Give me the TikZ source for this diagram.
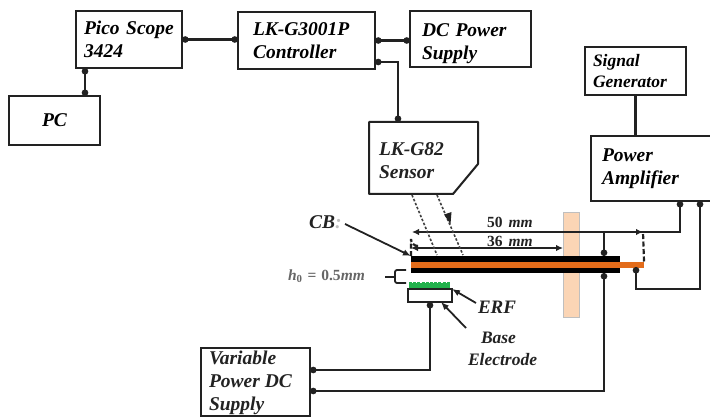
\documentclass[tikz,border=0pt]{standalone}
\usepackage[no-math]{fontspec}
\setmainfont{Liberation Serif}
\usetikzlibrary{arrows.meta,calc}
\definecolor{ink}{HTML}{222222}
\definecolor{clampc}{HTML}{FBD5B5}
\definecolor{rodc}{HTML}{E36C1A}
\definecolor{filmc}{HTML}{22B14C}
\definecolor{hgrey}{HTML}{666666}
\tikzset{
  box/.style={draw=ink,line width=2pt,fill=white,anchor=north west,inner xsep=8pt,inner ysep=0pt,outer sep=0pt,align=left,
    font=\fontsize{19.5}{23}\selectfont\bfseries\itshape},
  lbl/.style={inner sep=0pt,outer sep=0pt,align=left,text=ink,font=\fontsize{19.5}{23}\selectfont\bfseries\itshape},
  small/.style={lbl,font=\fontsize{17.5}{22}\selectfont\bfseries\itshape},
  dimtext/.style={lbl,font=\fontsize{15.5}{17}\selectfont\bfseries},
  part/.style={inner sep=0pt,outer sep=0pt,anchor=north west},
  wire/.style={draw=ink,line width=2.4pt,{Circle[length=6.5pt]}-{Circle[length=6.5pt]}},
  wireb/.style={draw=ink,line width=2.4pt},
  lead/.style={draw=ink,line width=1.8pt,-{Latex[length=8pt,width=6.5pt]}},
  dim/.style={draw=ink,line width=1.7pt,{Latex[length=7pt,width=6.5pt]}-{Latex[length=7pt,width=6.5pt]}},
  beamdash/.style={draw=black!75,line width=1.6pt,dash pattern=on 2.5pt off 1.8pt},
  extdash/.style={draw=ink,line width=2.2pt,dash pattern=on 5pt off 2.5pt},
}
\begin{document}
\begin{tikzpicture}[x=1pt,y=-1pt]
\useasboundingbox (0,0) rectangle (710,417);
% boxes
\node[box,text width=90pt,minimum height=57pt] (pico) at (76,11) {\mbox{Pico Scope}\\3424};
\node[box,text width=75pt,minimum height=49pt,align=center] (pc) at (9,96) {PC};
\node[box,text width=107pt,minimum height=57pt,inner xsep=15pt] (ctrl) at (238,12) {\mbox{LK-G3001P}\\Controller};
\node[box,text width=97pt,minimum height=56pt,inner xsep=12pt] (dc) at (410,11) {\rule{0pt}{22pt}\mbox{DC Power}\\Supply};
\node[box,text width=85pt,minimum height=48pt,font=\fontsize{17.5}{21}\selectfont\bfseries\itshape] (sig) at (585,47) {Signal\\Generator};
\node[box,text width=98pt,minimum height=65pt,inner xsep=11pt] (amp) at (591,136) {Power\\Amplifier};
\node[box,minimum width=109pt,minimum height=68pt] (var) at (201,348) {};
\node[lbl,anchor=west] (varlbl) at (var.west) [xshift=8pt,yshift=-1pt] {\mbox{Variable}\\\mbox{Power DC}\\Supply};
% sensor
\coordinate (s1) at (369,122);
\coordinate (s2) at (478,122);
\coordinate (s3) at (478,164);
\coordinate (s4) at (453,194);
\coordinate (s5) at (369,194);
\draw[draw=ink,line width=2pt,fill=white,line join=round] (s1)--(s2)--(s3)--(s4)--(s5)--cycle;
\node[lbl,anchor=west] (sensor) at (379,161) {LK-G82\\Sensor};
% apparatus
\node[part,draw=black!25,line width=.6pt,fill=clampc,minimum width=16pt,minimum height=105pt] (clamp) at (563,212) {};
\coordinate (d50l) at (412,232);
\coordinate (d50r) at (643,232);
\coordinate (d36l) at (411,248);
\coordinate (d36r) at (563,248);
\draw[dim] (d50l) -- (d50r);
\draw[dim] (d36l) -- (d36r);
\node[part,fill=black,minimum width=209pt,minimum height=17pt] (beam) at (411,256) {};
\node[part,fill=rodc,minimum width=233pt,minimum height=6pt] (rod) at (411,261.5) {};
\draw[extdash] (beam.north west) -- ++(0,-17) arc[start angle=180,end angle=270,radius=7pt];
\draw[extdash] (rod.north east) -- (d50r);
\coordinate (b1) at (412,195);
\coordinate (b2) at (437,255);
\coordinate (b3) at (437,195);
\coordinate (b4) at (463,255);
\coordinate (b5) at (448,221);
\draw[beamdash] (b1) -- (b2);
\draw[beamdash] (b3) -- (b4);
\fill[ink] (b5) ++(2.5,3) -- ++(-6.5,-9.5) -- ++(7.5,-2.5) -- cycle;
\node[part,draw=ink,line width=2pt,fill=white,minimum width=44pt,minimum height=13pt] (base) at (408,289) {};
\node[part,fill=filmc,minimum width=41pt,minimum height=5pt] (film) at (409,283) {};
\draw[filmc,line width=1.6pt,dash pattern=on 3pt off 1.2pt] (film.north west) -- (film.north east);
% labels
\node[dimtext,anchor=west] (dim50) at (487,222) {50\hspace{6pt}\textit{mm}};
\node[dimtext,anchor=west] (dim36) at (487,241) {36\hspace{6pt}\textit{mm}};
\node[lbl,anchor=west] (cb) at (309,222) {CB{\color{black!25}:}};
\node[dimtext,anchor=west,text=hgrey] (h0) at (288,276) {\textit{h}\textsubscript{0}\hspace{5pt}=\hspace{5pt}0.5\textit{mm}};
\node[lbl,anchor=west,font=\fontsize{19}{22}\selectfont\bfseries\itshape] (erf) at (478,307) {ERF};
\node[small,anchor=west] (baselbl) at (468,349) {\hspace*{13pt}Base\\Electrode};
% gap bracket
\coordinate (brt) at (406,270);
\coordinate (brb) at (406,283);
\coordinate (brl) at (395,277);
\coordinate (brm) at (385,277);
\draw[ink,line width=1.8pt,rounded corners=2pt] (brt) -- (brl |- brt) -- (brl |- brb) -- (brb);
\draw[ink,line width=1.8pt] (brm) -- (brl);
% leaders
\coordinate (cbtail) at (345,224);
\coordinate (erftail) at (476,303);
\coordinate (basetail) at (466,328);
\draw[lead] (cbtail) -- (beam.north west);
\draw[lead] (erftail) -- (base.north east);
\draw[lead] (basetail) -- ($(base.south west)!.75!(base.south east)$);
% wiring
\coordinate (ctrlo) at (375,62);
\coordinate (picob) at (85,68);
\coordinate (pct) at (85,96);
\coordinate (sent) at (398,122);
\draw[wire] (pico.east) -- (pico.east -| ctrl.west);
\draw[wire] (picob) -- (pct);
\draw[wire] (ctrl.east) -- (ctrl.east -| dc.west);
\draw[wire] (ctrlo) -| (sent);
\draw[wireb] (sig.south) -- (sig.south |- amp.north);
\coordinate (ampa) at (680,201);
\coordinate (ampb) at (700,201);
\coordinate (beamt) at (604,256);
\coordinate (beamb) at (604,273);
\coordinate (rodb) at (636,267);
\coordinate (va) at (310,370);
\coordinate (vb) at (310,391);
\coordinate (rety) at (636,289);
\draw[wire] (ampa) |- (beamt |- d50r) -- (beamt);
\draw[wire] (ampb) |- (rety) -- (rodb);
\draw[wire] (va) -| (base.south);
\draw[wire] (vb) -| (beamb);
\end{tikzpicture}
\end{document}
